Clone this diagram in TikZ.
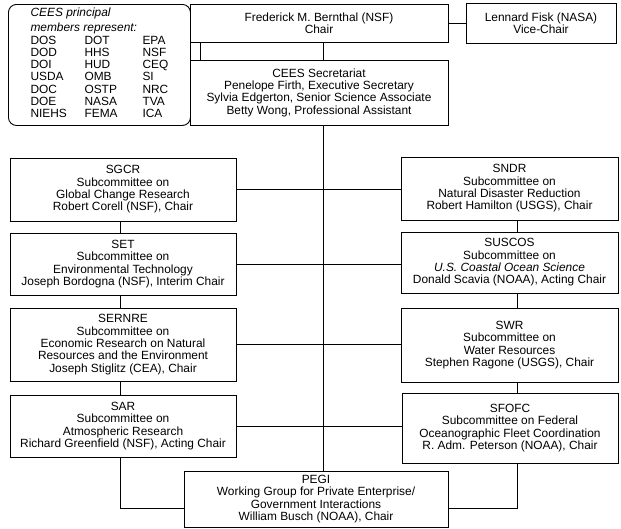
\documentclass[tikz,border=0pt]{standalone}
\usepackage{fontspec}
\setmainfont{Liberation Sans}
\usetikzlibrary{calc}

\begin{document}
\begin{tikzpicture}[x=1pt,y=-1pt,
    every node/.style={font=\fontsize{11.9}{12.3}\selectfont},
    orgbox/.style 2 args={draw,fill=white,line width=0.9pt,align=center,
        inner sep=1pt,minimum width=#1,minimum height=#2},
    link/.style={line width=1pt}]

% Fix page size.
\useasboundingbox (0,0) rectangle (621,528);

% Spines for the connectors.
\coordinate (spine) at (323,0);
\coordinate (sidelink) at (200,0);
\coordinate (lspine) at (120,0);
\coordinate (rspine) at (517,0);
\coordinate (lowlink) at (0,508);

% Draw member box.
\node (members) [draw,line width=0.9pt,rounded corners=8pt,anchor=north west,
    minimum width=182pt,minimum height=121pt,inner sep=0pt] at (8,4) {%
    \begin{tabular}{@{}p{54pt}@{}p{58pt}@{}l@{}}
    \multicolumn{3}{@{}l@{}}{\itshape CEES principal}\\[2.5pt]
    \multicolumn{3}{@{}l@{}}{\itshape members represent:}\\
    DOS & DOT & EPA\\
    DOD & HHS & NSF\\
    DOI & HUD & CEQ\\
    USDA & OMB & SI\\
    DOC & OSTP & NRC\\
    DOE & NASA & TVA\\
    NIEHS & FEMA & ICA
    \end{tabular}};

% Draw chair, vice-chair and secretariat.
\node (chair) [orgbox={258pt}{38pt}] at (319,23)
    {Frederick M. Bernthal (NSF)\\Chair};
\node (vice) [orgbox={150pt}{40pt}] at (541,23)
    {Lennard Fisk (NASA)\\Vice-Chair};
\node (secr) [orgbox={258pt}{65pt}] at (319,92.5)
    {CEES Secretariat\\Penelope Firth, Executive Secretary\\
     Sylvia Edgerton, Senior Science Associate\\
     Betty Wong, Professional Assistant};

% Member box is open between chair and secretariat.
\draw[white,line width=1.6pt] ([yshift=-1pt]chair.south west) -- ([yshift=1pt]secr.north west);

% Left column of subcommittees.
\node (sgcr) [orgbox={226pt}{63pt}] at (123,189.5)
    {SGCR\\Subcommittee on\\Global Change Research\\Robert Corell (NSF), Chair};
\node (set) [orgbox={226pt}{62pt}] at (123,264)
    {SET\\Subcommittee on\\Environmental Technology\\Joseph Bordogna (NSF), Interim Chair};
\node (sernre) [orgbox={226pt}{73pt}] at (123,344.5)
    {SERNRE\\Subcommittee on\\Economic Research on Natural\\Resources and the Environment\\
     Joseph Stiglitz (CEA), Chair};
\node (sar) [orgbox={226pt}{62pt}] at (123,426)
    {SAR\\Subcommittee on\\Atmospheric Research\\Richard Greenfield (NSF), Acting Chair};

% Right column of subcommittees.
\node (sndr) [orgbox={217pt}{63pt}] at (509.5,188.5)
    {SNDR\\Subcommittee on\\Natural Disaster Reduction\\Robert Hamilton (USGS), Chair};
\node (suscos) [orgbox={217pt}{61pt}] at (509.5,262.5)
    {SUSCOS\\Subcommittee on\\\textit{U.S. Coastal Ocean Science}\\Donald Scavia (NOAA), Acting Chair};
\node (swr) [orgbox={217pt}{74pt}] at (509.5,345)
    {SWR\\Subcommittee on\\Water Resources\\Stephen Ragone (USGS), Chair};
\node (sfofc) [orgbox={216pt}{70pt}] at (510,428)
    {SFOFC\\Subcommittee on Federal\\Oceanographic Fleet Coordination\\R. Adm. Peterson (NOAA), Chair};

% Working group at the bottom.
\node (pegi) [orgbox={264pt}{56pt}] at (316,499)
    {PEGI\\Working Group for Private Enterprise/\\Government Interactions\\
     William Busch (NOAA), Chair};

% Top links.
\draw[link] (chair.east) -- (chair.east -| vice.west);
\draw[link] (chair.south -| sidelink) -- (secr.north -| sidelink);
\draw[link] (chair.south -| spine) -- (secr.north -| spine);

% Main spine down to the working group.
\draw[link] (secr.south -| spine) -- (pegi.north -| spine);

% Cross links. Each one passes the spine.
\foreach \l/\r in {sgcr/sndr,set/suscos,sernre/swr,sar/sfofc} {
    \draw[link] (\l.east) -- (\l.east -| \r.west);
}

% Column links.
\foreach \a/\b in {sgcr/set,set/sernre,sernre/sar} {
    \draw[link] (\a.south -| lspine) -- (\b.north -| lspine);
}
\foreach \a/\b in {sndr/suscos,suscos/swr,swr/sfofc} {
    \draw[link] (\a.south -| rspine) -- (\b.north -| rspine);
}

% Feed the working group from both columns.
\draw[link] (sar.south -| lspine) |- (pegi.west |- lowlink);
\draw[link] (sfofc.south -| rspine) |- (pegi.east |- lowlink);

\end{tikzpicture}
\end{document}
